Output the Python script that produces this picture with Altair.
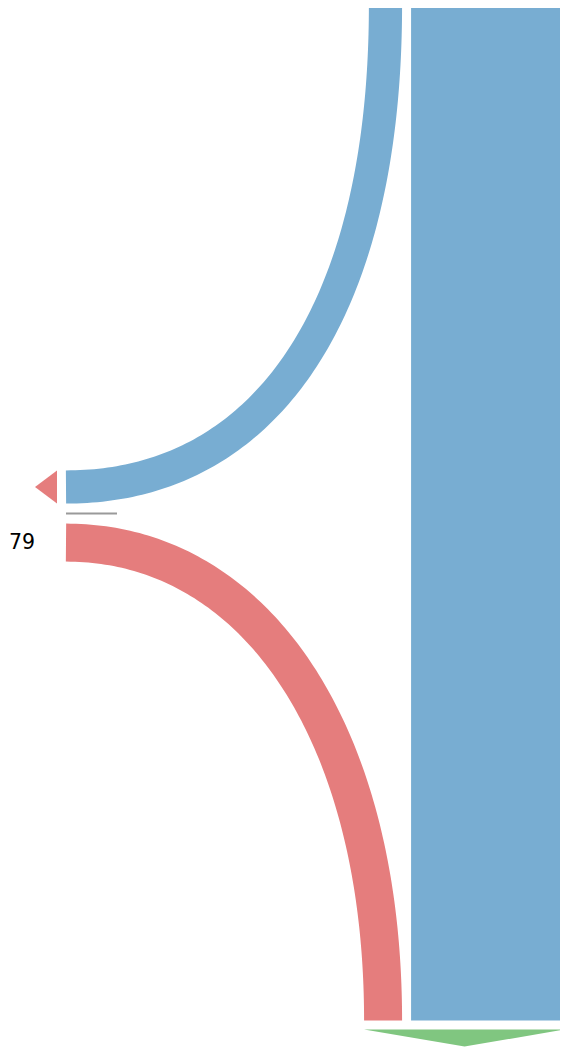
import altair as alt
import numpy as np
import pandas as pd

# ---------------- data ----------------
flow_names = ["kept", "outflow", "inflow"]
flow_values = [320, 69, 79]          # flow sizes (units)
flow_colors = ["#78add2", "#78add2", "#e57d7d"]
inflow_label = ["79"]
output_color = "#80c680"
marker_color = "#e57d7d"
divider_color = "#9a9a9a"
label_color = "#000000"

# ---------------- layout (page pixels, identity scales) ----------------
PX_PER_UNIT = 38 / 79
RIGHT = 565.0
GAP = 9.0
TOP = 5.0
BOTTOM = 1020.5
LEFT = 66.0
OUT_Y = 487.0
KAPPA_OUT = 0.63
KAPPA_IN = 0.60

w_keep, w_out, w_in = [v * PX_PER_UNIT for v in flow_values]
keep_x0 = RIGHT - w_keep
out_cx = keep_x0 - GAP - w_out / 2
in_cx = keep_x0 - GAP - w_in / 2
divider_y = OUT_Y + w_out / 2 + 10
in_cy = divider_y + 10 + w_in / 2


def bezier(p0, p1, p2, p3, n=120):
    t = np.linspace(0, 1, n)[:, None]
    pts = ((1 - t) ** 3) * np.array(p0) + 3 * ((1 - t) ** 2) * t * np.array(p1) \
        + 3 * (1 - t) * t ** 2 * np.array(p2) + t ** 3 * np.array(p3)
    return pd.DataFrame({"x": pts[:, 0], "y": pts[:, 1], "i": np.arange(n)})


out_curve = bezier((out_cx, TOP), (out_cx, TOP + KAPPA_OUT * (OUT_Y - TOP)),
                   (LEFT + KAPPA_OUT * (out_cx - LEFT), OUT_Y), (LEFT, OUT_Y))
in_curve = bezier((LEFT, in_cy), (LEFT + KAPPA_IN * (in_cx - LEFT), in_cy),
                  (in_cx, BOTTOM - KAPPA_IN * (BOTTOM - in_cy)), (in_cx, BOTTOM))

keep_df = pd.DataFrame({"x": [keep_x0], "x2": [RIGHT], "y": [TOP], "y2": [BOTTOM]})

arrow_base = LEFT - GAP
arrow_tip = arrow_base - 22
left_arrow = pd.DataFrame({"x": [arrow_tip, arrow_base],
                           "y": [OUT_Y, OUT_Y - w_out / 2],
                           "y2": [OUT_Y, OUT_Y + w_out / 2]})

g_left = in_cx - w_in / 2
g_top = BOTTOM + 9.0
out_arrow = pd.DataFrame({"x": [g_left, (g_left + RIGHT) / 2, RIGHT],
                          "y": [g_top, g_top, g_top],
                          "y2": [g_top, g_top + 17, g_top]})

divider = pd.DataFrame({"x": [LEFT], "x2": [LEFT + 51], "y": [divider_y]})
label_df = pd.DataFrame({"x": [35.0], "y": [in_cy + 6.0], "t": inflow_label})

# the page shows x 8..560 and y 8..1047 one-to-one
xs = alt.Scale(domain=[8, 560], nice=False, zero=False)
ys = alt.Scale(domain=[8, 1047], nice=False, zero=False, reverse=True)
X = lambda f="x": alt.X(f"{f}:Q", scale=xs, axis=None)
Y = lambda f="y": alt.Y(f"{f}:Q", scale=ys, axis=None)

keep_rect = alt.Chart(keep_df).mark_rect(color=flow_colors[0], clip=True).encode(
    x=X(), x2="x2", y=Y(), y2="y2")

out_ribbon = alt.Chart(out_curve).mark_line(
    color=flow_colors[1], strokeWidth=w_out, strokeCap="butt", clip=True
).encode(x=X(), y=Y(), order="i:Q")

in_ribbon = alt.Chart(in_curve).mark_line(
    color=flow_colors[2], strokeWidth=w_in, strokeCap="butt", clip=True
).encode(x=X(), y=Y(), order="i:Q")

left_tri = alt.Chart(left_arrow).mark_area(color=marker_color, orient="vertical", clip=True).encode(
    x=X(), y=Y(), y2="y2")

green_tri = alt.Chart(out_arrow).mark_area(color=output_color, orient="vertical", clip=True).encode(
    x=X(), y=Y(), y2="y2")

div_rule = alt.Chart(divider).mark_rule(color=divider_color, strokeWidth=2).encode(
    x=X(), x2="x2", y=Y())

label = alt.Chart(label_df).mark_text(
    align="right", baseline="alphabetic", font="DejaVu Sans", fontSize=20.5,
    color=label_color
).encode(x=X(), y=Y(), text="t:N")

chart = alt.layer(keep_rect, out_ribbon, in_ribbon, left_tri, green_tri, div_rule, label).properties(
    width=552, height=1039, padding=0
).configure_view(stroke=None)

chart.save("out.html", embed_options={"renderer": "svg", "actions": False})
